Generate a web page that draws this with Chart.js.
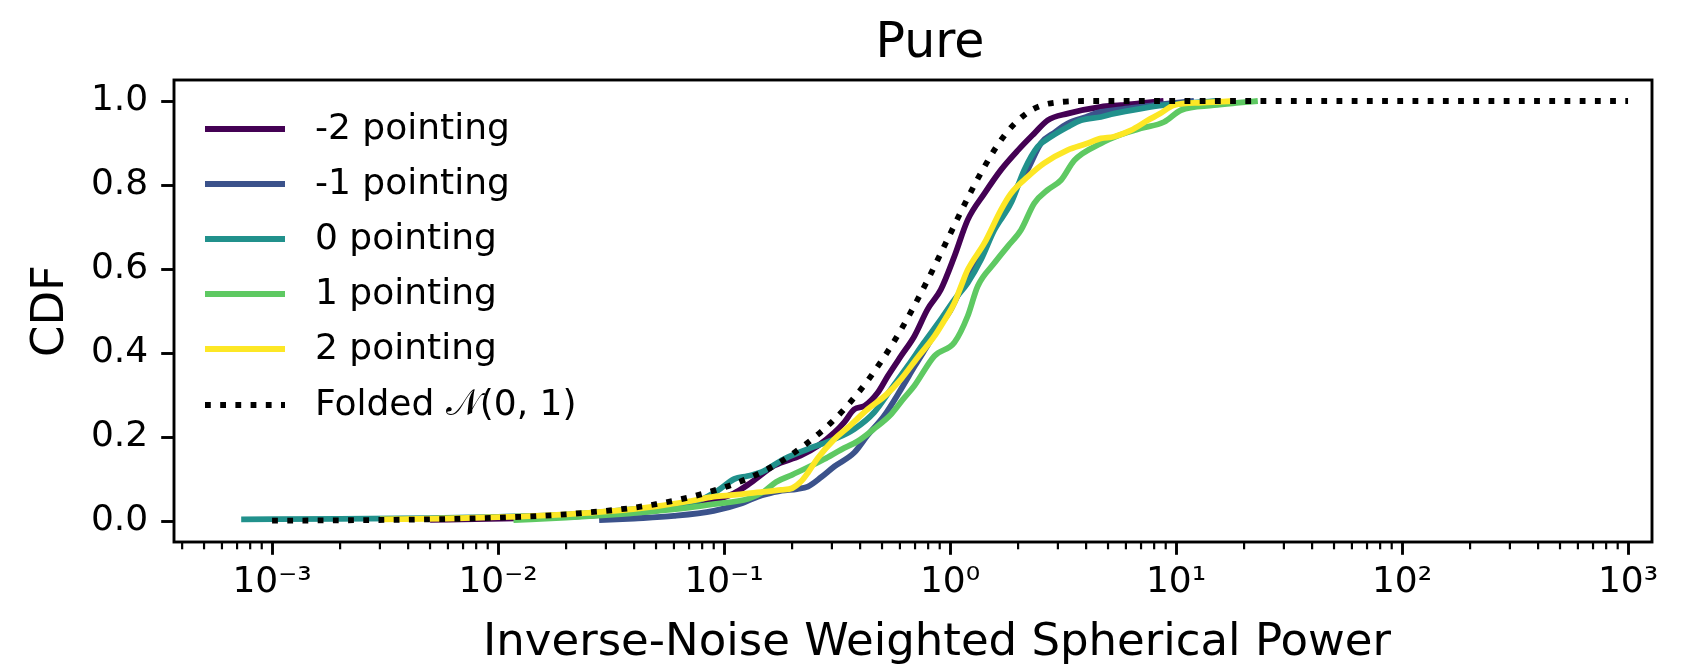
<!DOCTYPE html>
<html>
<head>
<meta charset="utf-8">
<script src="https://cdn.jsdelivr.net/npm/chart.js@4.4.1/dist/chart.umd.min.js"></script>
<style>
  html, body { margin: 0; padding: 0; background: #ffffff; }
  #wrap { width: 1685px; height: 670px; position: relative; }
</style>
</head>
<body>
<div id="wrap"><canvas id="c"></canvas></div>
<script>
// ---------------- data ----------------
const seriesLabels = ['-2 pointing', '-1 pointing', '0 pointing', '1 pointing', '2 pointing', 'Folded \u{1D4A9}(0, 1)'];
const seriesColors = ['#440154', '#3b528b', '#21918c', '#5ec962', '#fde725', '#000000'];

const xNeg2 = [0.005, 0.02, 0.05, 0.085, 0.11, 0.132, 0.167, 0.219, 0.26, 0.308, 0.34, 0.377, 0.418, 0.479, 0.53, 0.607, 0.695, 0.795, 0.91, 1.045, 1.197, 1.42, 1.68, 2.0, 2.36, 2.7, 3.31, 4.65, 5.7, 7.0, 8.8];
const yNeg2 = [0.003, 0.01, 0.025, 0.046, 0.065, 0.092, 0.132, 0.156, 0.179, 0.211, 0.235, 0.266, 0.274, 0.306, 0.345, 0.393, 0.44, 0.504, 0.551, 0.63, 0.717, 0.78, 0.836, 0.883, 0.923, 0.954, 0.97, 0.986, 0.99, 0.995, 1.0];

const xNeg1 = [0.028, 0.04, 0.06, 0.09, 0.12, 0.141, 0.16, 0.18, 0.21, 0.235, 0.27, 0.308, 0.377, 0.43, 0.51, 0.607, 0.7, 0.8, 0.9, 1.0, 1.1, 1.25, 1.42, 1.68, 1.95, 2.2, 2.53, 2.9, 3.31, 4.0, 4.65, 5.7, 8.0, 12];
const yNeg1 = [0.002, 0.006, 0.012, 0.024, 0.042, 0.058, 0.066, 0.072, 0.076, 0.082, 0.105, 0.13, 0.163, 0.203, 0.25, 0.314, 0.37, 0.42, 0.465, 0.5, 0.545, 0.6, 0.655, 0.733, 0.79, 0.836, 0.9, 0.925, 0.946, 0.962, 0.974, 0.98, 0.99, 1.0];

const xZero = [0.00073, 0.002, 0.005, 0.01, 0.02, 0.04, 0.065, 0.08, 0.094, 0.111, 0.127, 0.146, 0.185, 0.234, 0.308, 0.377, 0.462, 0.548, 0.65, 0.767, 0.91, 1.045, 1.197, 1.37, 1.57, 1.86, 2.13, 2.44, 2.8, 3.31, 3.8, 4.65, 5.3, 7.0, 8.85, 12, 15];
const yZero = [0.004, 0.005, 0.007, 0.01, 0.015, 0.028, 0.041, 0.052, 0.073, 0.1, 0.107, 0.116, 0.148, 0.171, 0.195, 0.219, 0.259, 0.314, 0.369, 0.425, 0.48, 0.527, 0.567, 0.622, 0.693, 0.757, 0.836, 0.891, 0.915, 0.938, 0.954, 0.962, 0.97, 0.982, 0.99, 0.996, 1.0];

const xPos1 = [0.0117, 0.02, 0.03, 0.046, 0.07, 0.09, 0.128, 0.15, 0.17, 0.2, 0.235, 0.277, 0.33, 0.39, 0.46, 0.55, 0.62, 0.695, 0.853, 1.045, 1.197, 1.325, 1.57, 1.8, 2.06, 2.36, 2.7, 3.1, 3.55, 4.65, 5.7, 7.0, 8.85, 10.5, 14.7, 19, 23];
const yPos1 = [0.002, 0.008, 0.014, 0.022, 0.032, 0.04, 0.053, 0.07, 0.093, 0.11, 0.128, 0.147, 0.17, 0.19, 0.219, 0.255, 0.29, 0.322, 0.393, 0.425, 0.488, 0.559, 0.614, 0.654, 0.693, 0.757, 0.788, 0.812, 0.859, 0.899, 0.92, 0.935, 0.95, 0.978, 0.99, 0.996, 1.0];

const xPos2 = [0.003, 0.006, 0.01, 0.02, 0.0326, 0.05, 0.07, 0.09, 0.111, 0.14, 0.179, 0.2, 0.22, 0.235, 0.26, 0.308, 0.352, 0.432, 0.52, 0.607, 0.72, 0.853, 0.95, 1.045, 1.12, 1.197, 1.42, 1.68, 1.86, 2.21, 2.61, 3.31, 4.0, 4.65, 5.3, 6.3, 7.5, 8.5, 9.8, 13, 18];
const yPos2 = [0.004, 0.006, 0.009, 0.016, 0.024, 0.035, 0.047, 0.058, 0.062, 0.068, 0.074, 0.078, 0.095, 0.115, 0.15, 0.195, 0.222, 0.266, 0.3, 0.338, 0.39, 0.44, 0.48, 0.519, 0.56, 0.598, 0.662, 0.741, 0.78, 0.82, 0.852, 0.883, 0.898, 0.911, 0.915, 0.93, 0.954, 0.97, 0.99, 0.996, 1.0];

const xFolded = [0.001, 0.002, 0.005, 0.01, 0.02, 0.05, 0.1, 0.15, 0.2, 0.3, 0.4, 0.5, 0.6, 0.7, 0.8, 0.9, 1.0, 1.2, 1.4, 1.6, 1.8, 2.0, 2.3, 2.6, 3.0, 3.5, 4.0, 6.0, 10, 100, 1000];
const yFolded = [0.0008, 0.0016, 0.004, 0.008, 0.016, 0.04, 0.080, 0.119, 0.159, 0.236, 0.311, 0.383, 0.451, 0.516, 0.576, 0.632, 0.683, 0.770, 0.838, 0.890, 0.928, 0.954, 0.979, 0.991, 0.997, 0.9995, 1.0, 1.0, 1.0, 1.0, 1.0];

const xTickValues = [1e-3, 1e-2, 1e-1, 1e0, 1e1, 1e2, 1e3];
const xTickLabels = ['10\u207B\u00B3', '10\u207B\u00B2', '10\u207B\u00B9', '10\u2070', '10\u00B9', '10\u00B2', '10\u00B3'];
const yTickValues = [0.0, 0.2, 0.4, 0.6, 0.8, 1.0];
const yTickLabels = ['0.0', '0.2', '0.4', '0.6', '0.8', '1.0'];

const chartTitle = 'Pure';
const xTitle = 'Inverse-Noise Weighted Spherical Power';
const yTitle = 'CDF';

// ---------------- build ----------------
const FONT = "'DejaVu Sans', sans-serif";
const LW = 5.8;
const DOTS = [5.8, 9.4];
const xsAll = [xNeg2, xNeg1, xZero, xPos1, xPos2, xFolded];
const ysAll = [yNeg2, yNeg1, yZero, yPos1, yPos2, yFolded];
const pts = (xs, ys) => xs.map((x, i) => ({ x: x, y: ys[i] }));

const datasets = xsAll.map((xs, k) => {
  const dotted = k === 5;
  return {
    label: seriesLabels[k],
    data: pts(xs, ysAll[k]),
    borderColor: seriesColors[k],
    backgroundColor: seriesColors[k],
    borderWidth: LW,
    borderDash: dotted ? DOTS : [],
    borderCapStyle: 'butt',
    borderJoinStyle: 'round',
    pointRadius: 0,
    fill: false,
    tension: 0,
    cubicInterpolationMode: 'monotone',
    order: 5 - k
  };
});

const AREA = { left: 174, right: 1652, top: 80, bottom: 542 };

const decorPlugin = {
  id: 'decor',
  afterDraw(chart) {
    const ctx = chart.ctx;
    const a = chart.chartArea;
    const xs = chart.scales.x;
    ctx.save();
    // minor ticks on log x axis
    ctx.strokeStyle = '#000';
    ctx.lineWidth = 2.2;
    for (let e = -4; e <= 3; e++) {
      for (let m = 2; m <= 9; m++) {
        const v = m * Math.pow(10, e);
        if (v < xs.min || v > xs.max) continue;
        const px = xs.getPixelForValue(v);
        ctx.beginPath();
        ctx.moveTo(px, a.bottom);
        ctx.lineTo(px, a.bottom + 7.3);
        ctx.stroke();
      }
    }
    // frame
    ctx.lineWidth = 2.9;
    ctx.strokeRect(a.left, a.top, a.right - a.left, a.bottom - a.top);

    // title
    ctx.fillStyle = '#000';
    ctx.textAlign = 'center';
    ctx.textBaseline = 'alphabetic';
    ctx.font = '49px ' + FONT;
    ctx.fillText(chartTitle, 930, 57);
    // x title
    ctx.font = '45px ' + FONT;
    ctx.fillText(xTitle, 937, 655);
    // y title
    ctx.save();
    ctx.translate(63, (a.top + a.bottom) / 2);
    ctx.rotate(-Math.PI / 2);
    ctx.fillText(yTitle, 0, 0);
    ctx.restore();

    // legend
    const rowY = [129, 184, 239, 294, 349, 405];
    ctx.font = '36px ' + FONT;
    ctx.textAlign = 'left';
    ctx.textBaseline = 'middle';
    for (let k = 0; k < seriesLabels.length; k++) {
      const y = rowY[k];
      ctx.strokeStyle = seriesColors[k];
      ctx.lineWidth = LW;
      ctx.lineCap = 'butt';
      ctx.setLineDash(k === 5 ? DOTS : []);
      ctx.beginPath();
      ctx.moveTo(205, y);
      ctx.lineTo(285, y);
      ctx.stroke();
      ctx.setLineDash([]);
      ctx.fillStyle = '#000';
      ctx.fillText(seriesLabels[k], 315, y + 1);
    }
    ctx.restore();
  }
};

new Chart(document.getElementById('c'), {
  type: 'line',
  data: { datasets: datasets },
  plugins: [decorPlugin],
  options: {
    responsive: true,
    maintainAspectRatio: false,
    devicePixelRatio: 1,
    animation: false,
    layout: { padding: { left: 0, right: 1685 - AREA.right, top: AREA.top, bottom: 0 } },
    plugins: { legend: { display: false }, tooltip: { enabled: false }, title: { display: false } },
    scales: {
      x: {
        type: 'logarithmic',
        min: Math.pow(10, -3.434),
        max: Math.pow(10, 3.106),
        afterBuildTicks: (s) => { s.ticks = xTickValues.map(v => ({ value: v, major: true })); },
        afterFit: (s) => { s.height = 670 - AREA.bottom; },
        grid: { drawOnChartArea: false, drawTicks: true, tickLength: 12.8, tickWidth: 2.9, tickColor: '#000' },
        border: { display: false },
        ticks: {
          autoSkip: false,
          maxRotation: 0,
          padding: 6,
          color: '#000',
          font: { family: FONT, size: 36 },
          callback: (v) => { const i = xTickValues.findIndex(t => Math.abs(Math.log10(t) - Math.log10(v)) < 1e-6); return i >= 0 ? xTickLabels[i] : ''; }
        }
      },
      y: {
        type: 'linear',
        min: -0.05,
        max: 1.05,
        afterBuildTicks: (s) => { s.ticks = yTickValues.map(v => ({ value: v })); },
        afterFit: (s) => { s.width = AREA.left; },
        grid: { drawOnChartArea: false, drawTicks: true, tickLength: 12.8, tickWidth: 2.9, tickColor: '#000' },
        border: { display: false },
        ticks: {
          padding: 13,
          color: '#000',
          font: { family: FONT, size: 36 },
          callback: (v) => { const i = yTickValues.findIndex(t => Math.abs(t - v) < 1e-9); return i >= 0 ? yTickLabels[i] : ''; }
        }
      }
    }
  }
});
</script>
</body>
</html>
